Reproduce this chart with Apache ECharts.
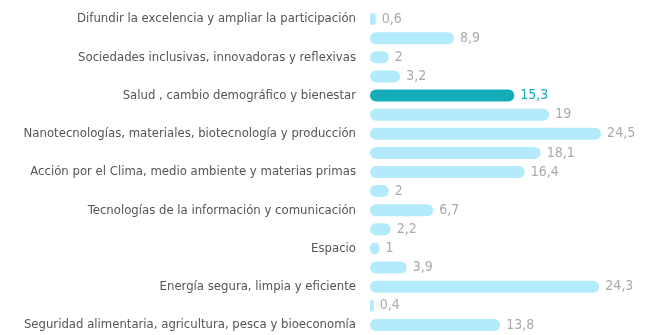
<!DOCTYPE html>
<html>
<head>
<meta charset="utf-8">
<script src="https://cdn.jsdelivr.net/npm/echarts@6/dist/echarts.min.js"></script>
<style>
  html, body { margin: 0; padding: 0; background: #fff; }
  #chart { width: 658px; height: 335px; }
</style>
</head>
<body>
<div id="chart"></div>
<script>
// Programme lines; the unnamed rows are the paired bars shown under each named line
const categories = [
  'Difundir la excelencia y ampliar la participación', '',
  'Sociedades inclusivas, innovadoras y reflexivas', '',
  'Salud , cambio demográfico y bienestar', '',
  'Nanotecnologías, materiales, biotecnología y producción', '',
  'Acción por el Clima, medio ambiente y materias primas', '',
  'Tecnologías de la información y comunicación', '',
  'Espacio', '',
  'Energía segura, limpia y eficiente', '',
  'Seguridad alimentaria, agricultura, pesca y bioeconomía'
];
const values = [0.6, 8.9, 2, 3.2, 15.3, 19, 24.5, 18.1, 16.4, 2, 6.7, 2.2, 1, 3.9, 24.3, 0.4, 13.8];
const highlightIndex = 4;

const FONT = '"Liberation Sans Narrow", "DejaVu Sans Condensed", sans-serif';
const LIGHT = '#b3ebfc';
const TEAL = '#13acb8';

const chart = echarts.init(document.getElementById('chart'), null, { renderer: 'canvas' });

chart.setOption({
  animation: false,
  grid: { left: 370, right: 5, top: 9.5, bottom: 0.5, containLabel: false, outerBoundsMode: 'none' },
  xAxis: {
    type: 'value', min: 0, max: 30,
    show: false
  },
  yAxis: {
    type: 'category',
    data: categories,
    inverse: true,
    axisLine: { show: false },
    axisTick: { show: false },
    axisLabel: {
      interval: 0, margin: 14,
      color: '#555', fontFamily: FONT, fontSize: 13
    }
  },
  series: [{
    type: 'bar',
    barWidth: 12,
    data: values.map((v, i) => ({
      value: v,
      itemStyle: { color: i === highlightIndex ? TEAL : LIGHT, borderRadius: 6 },
      label: { color: i === highlightIndex ? TEAL : '#aaaaaa' }
    })),
    label: {
      show: true, position: 'right', distance: 6,
      fontFamily: FONT, fontSize: 14,
      formatter: p => String(p.value).replace('.', ',')
    }
  }]
});
</script>
</body>
</html>
